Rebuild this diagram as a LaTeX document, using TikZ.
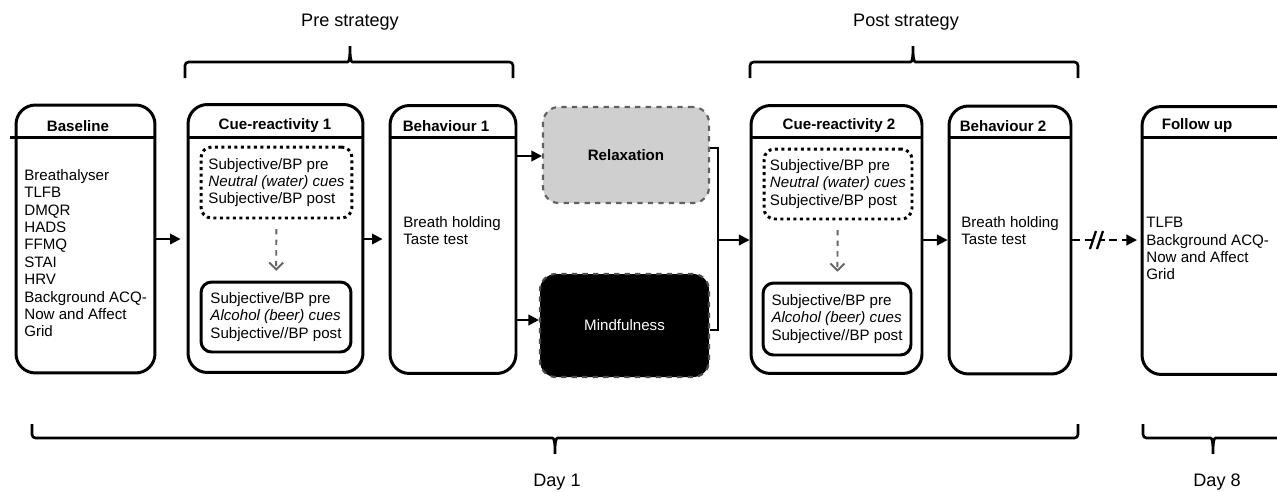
\documentclass[tikz,border=0pt]{standalone}
\usepackage{fontspec}
\setmainfont{Liberation Sans}
\usepackage{tikz}
\usetikzlibrary{arrows.meta,calc}
\newcommand{\boxfont}{\fontsize{8.6}{9.9}\selectfont}
\tikzstyle{phase}=[rectangle,draw,line width=1.7pt,rounded corners=11pt,inner sep=0pt,minimum height=5.36cm]
\tikzstyle{cuebox}=[rectangle,draw,line width=1.7pt,rounded corners=6pt,align=left,inner sep=0pt,font=\boxfont]
\tikzstyle{neutral}=[cuebox,dotted]
\tikzstyle{relaxbox}=[rectangle,draw=gray!75!black,fill=black!19,dashed,line width=1.2pt,rounded corners=9pt,font=\bfseries\boxfont,minimum width=3.32cm,minimum height=1.92cm]
\tikzstyle{mindbox}=[rectangle,draw=gray!60!black,fill=black,dashed,line width=1.2pt,rounded corners=9pt,text=white,font=\boxfont,minimum width=3.38cm,minimum height=2.06cm]
\tikzstyle{header}=[font=\bfseries\boxfont,inner sep=0pt]
\tikzstyle{bodytext}=[font=\boxfont,align=left,anchor=north west,inner sep=0pt]
\tikzstyle{edge}=[draw,line width=1.1pt,-{Triangle[length=6pt,width=6pt]}]
\tikzstyle{cueedge}=[draw,gray!80!black,dashed,line width=1.1pt,-{Straight Barb[length=4pt,width=8pt]},shorten <=5.5pt,shorten >=5.5pt]
\tikzstyle{brace}=[draw,line width=1.5pt,rounded corners=2pt]
\tikzstyle{labeltext}=[font=\fontsize{10.3}{12}\selectfont,inner sep=0pt]

\begin{document}
\begin{tikzpicture}[x=0.02cm,y=-0.02cm]
    \useasboundingbox (0,0) rectangle (1277,491);
    \clip (0,0) rectangle (1277,491);

    % main phases
    \foreach \name/\pos/\w in {base/{(85.5,239)}/2.78, cue1/{(275.5,238.5)}/3.5, beh1/{(453,239.5)}/2.52,
                               cue2/{(836.5,239.5)}/3.42, beh2/{(1010,240)}/2.44, follow/{(1231,240.5)}/3.56}
        \node[phase,minimum width=\w cm] (\name) at \pos {};

    \draw[line width=1.7pt] (10,137) -- (base.east |- 0,137);
    \foreach \name in {cue1,beh1,cue2,beh2,follow}
        \draw[line width=1.7pt] (\name.west |- 0,137) -- (\name.east |- 0,137);

    \foreach \x/\txt/\name in {78/Baseline/hbase, 275/Cue-reactivity 1/hcue1, 446/Behaviour 1/hbeh1,
                               839/Cue-reactivity 2/hcue2, 1003/Behaviour 2/hbeh2, 1197/Follow up/hfollow}
        \node[header] (\name) at (\x,126) {\txt};

    \node[bodytext] (baselist) at (24,169) {Breathalyser\\TLFB\\DMQR\\HADS\\FFMQ\\STAI\\HRV\\Background ACQ-\\Now and Affect\\Grid};
    \node[bodytext] (beh1txt) at (403,216) {Breath holding\\Taste test};
    \node[bodytext] (beh2txt) at (961,216) {Breath holding\\Taste test};
    \node[bodytext] (followtxt) at (1146,217) {TLFB\\Background ACQ-\\Now and Affect\\Grid};

    % cue blocks
    \node[neutral,minimum width=3.02cm,minimum height=1.42cm] (water1) at (276.5,182.5)
        {Subjective/BP pre\\\textit{Neutral (water) cues}\\Subjective/BP post};
    \node[cuebox,minimum width=3cm,minimum height=1.4cm] (beer1) at (276,317)
        {Subjective/BP pre\\\textit{Alcohol (beer) cues}\\Subjective//BP post};
    \node[neutral,minimum width=2.96cm,minimum height=1.4cm] (water2) at (838,184)
        {Subjective/BP pre\\\textit{Neutral (water) cues}\\Subjective/BP post};
    \node[cuebox,minimum width=2.96cm,minimum height=1.44cm] (beer2) at (837,319)
        {Subjective/BP pre\\\textit{Alcohol (beer) cues}\\Subjective//BP post};
    \path[cueedge] (water1) -- (beer1);
    \path[cueedge] (water2) -- (beer2);

    % strategies
    \node[relaxbox] (relax) at (626,155) {Relaxation};
    \node[mindbox] (mind) at (624.5,325.5) {Mindfulness};

    % Connect phases
    \path[edge,shorten >=3.4pt] (base.east |- 0,239) -- (cue1.west |- 0,239);
    \path[edge,shorten >=3.4pt] (cue1.east |- 0,239) -- (beh1.west |- 0,239);
    \path[edge] (beh1.east |- 0,156) -- (relax.west |- 0,156);
    \path[edge] (beh1.east |- 0,320) -- (mind.west |- 0,320);
    \coordinate (join) at (718,240);
    \draw[line width=1.3pt] (relax.east |- 0,148) -- (join |- 0,148) -- (join |- 0,330) -- (mind.east |- 0,330);
    \path[edge] (join) -- (cue2.west |- join);
    \path[edge] (cue2.east |- 0,240) -- (beh2.west |- 0,240);
    \path[edge,dash pattern=on 4.5pt off 2.5pt,shorten >=2pt] (beh2.east |- 0,240) -- coordinate[pos=0.36] (gap) (follow.west |- 0,240);
    \fill[white] ($(gap)+(-5,-4)$) rectangle ($(gap)+(4,4)$);
    \draw[line width=1.3pt] ($(gap)+(-7,9)$) -- ($(gap)+(-1,-9)$);
    \draw[line width=1.3pt] ($(gap)+(0,9)$) -- ($(gap)+(6,-9)$);

    % braces
    \foreach \l/\m/\r/\tx/\txt/\name in {185/350/513/350/Pre strategy/pre, 750/913/1078/906/Post strategy/post} {
        \draw[brace] (\l,78) -- (\l,62) -- (\m-6,62) .. controls (\m-1,62) and (\m,58) .. (\m,44)
            .. controls (\m,58) and (\m+1,62) .. (\m+6,62) -- (\r,62) -- (\r,78);
        \node[labeltext] (\name) at (\tx,22) {\txt};
    }
    \foreach \l/\m/\r/\tx/\txt/\name in {32/555/1078/557/Day 1/day1, 1143/1213/1300/1217/Day 8/day8} {
        \draw[brace] (\l,424) -- (\l,438) -- (\m-6,438) .. controls (\m-1,438) and (\m,442) .. (\m,456)
            .. controls (\m,442) and (\m+1,438) .. (\m+6,438) -- (\r,438) -- (\r,424);
        \node[labeltext] (\name) at (\tx,482) {\txt};
    }
\end{tikzpicture}
\end{document}
